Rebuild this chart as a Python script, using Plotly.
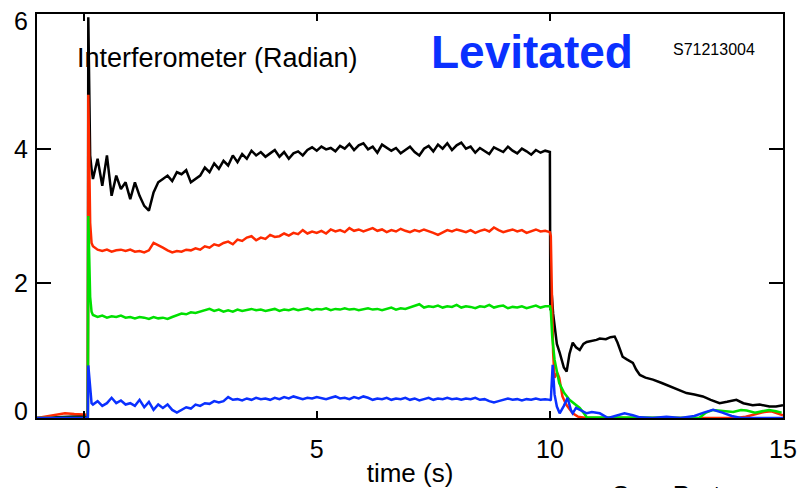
import plotly.graph_objects as go

# ---------------- data ----------------
main_t = [round(0.2 + 0.1 * i, 1) for i in range(99)]  # 0.2 ... 10.0 s sampling grid

black_pre_t = [-1.0, -0.5, 0.0, 0.09, 0.1, 0.14, 0.17]
black_pre_v = [0.0, 0.01, 0.02, 0.03, 5.95, 3.9, 3.7]
black_main = [3.55, 3.85, 3.45, 3.9, 3.3, 3.6, 3.4, 3.5, 3.25, 3.5,
              3.3, 3.15, 3.08, 3.35, 3.5, 3.55, 3.6, 3.52, 3.65, 3.62,
              3.68, 3.5, 3.55, 3.6, 3.72, 3.65, 3.78, 3.7, 3.82, 3.75,
              3.9, 3.8, 3.92, 3.85, 3.97, 3.9, 3.95, 3.88, 3.93, 3.98,
              3.88, 3.95, 3.85, 3.93, 3.96, 3.9, 3.98, 4.02, 3.97, 4.03,
              3.99, 4.01, 3.96, 4.04, 4.0, 4.07, 3.98, 4.05, 4.08, 3.99,
              4.03, 3.94, 4.06, 4.02, 3.97, 4.01, 3.93, 3.98, 4.03, 3.95,
              3.9, 4.0, 4.04, 3.96, 4.06, 4.0, 4.08, 3.98, 4.05, 4.09,
              4.0, 4.03, 3.94, 4.01, 3.97, 3.92, 4.02, 3.99, 3.95, 4.03,
              3.97, 3.93, 4.0, 3.96, 3.91, 3.98, 3.94, 3.97, 3.95]
black_tail_t = [10.01, 10.04, 10.07, 10.15, 10.21, 10.3, 10.36, 10.42, 10.49, 10.56,
                10.64, 10.72, 10.79, 10.9, 11.0, 11.07, 11.2, 11.3, 11.39, 11.45,
                11.56, 11.65, 11.78, 11.85, 11.93, 12.05, 12.21, 12.4, 12.57, 12.75,
                12.93, 13.1, 13.28, 13.45, 13.64, 13.8, 14.0, 14.15, 14.35, 14.5,
                14.71, 14.85, 15.0]
black_tail_v = [1.6, 1.84, 1.55, 1.1, 0.97, 0.75, 0.69, 0.95, 1.12, 1.05,
                1.01, 1.1, 1.13, 1.14, 1.16, 1.18, 1.17, 1.2, 1.21, 1.12,
                0.91, 0.87, 0.82, 0.72, 0.64, 0.6, 0.57, 0.52, 0.47, 0.42,
                0.37, 0.35, 0.32, 0.27, 0.22, 0.24, 0.27, 0.22, 0.19, 0.2,
                0.17, 0.17, 0.19]

red_pre_t = [-1.0, -0.8, -0.6, -0.4, -0.2, 0.0, 0.09, 0.1, 0.14, 0.17]
red_pre_v = [0.0, 0.02, 0.05, 0.07, 0.06, 0.06, 0.05, 4.8, 2.9, 2.6]
red_main = [2.55, 2.5, 2.48, 2.5, 2.47, 2.49, 2.5, 2.48, 2.5, 2.47,
            2.48, 2.46, 2.49, 2.6, 2.57, 2.53, 2.49, 2.46, 2.48, 2.47,
            2.5, 2.49, 2.52, 2.5, 2.55, 2.53, 2.58, 2.56, 2.6, 2.62,
            2.58, 2.65, 2.63, 2.68, 2.7, 2.64, 2.68, 2.66, 2.72, 2.69,
            2.7, 2.74, 2.71, 2.75, 2.73, 2.79, 2.74, 2.77, 2.75, 2.78,
            2.74, 2.8, 2.77, 2.79, 2.76, 2.82, 2.78, 2.8, 2.77, 2.79,
            2.82, 2.78, 2.8, 2.76, 2.79, 2.77, 2.81, 2.78, 2.76, 2.79,
            2.77, 2.8, 2.78, 2.75, 2.72, 2.76, 2.79, 2.77, 2.8, 2.78,
            2.76, 2.79, 2.75, 2.78, 2.8, 2.77, 2.83, 2.79, 2.76, 2.78,
            2.8, 2.77, 2.79, 2.75, 2.78, 2.8, 2.77, 2.78, 2.76]
red_tail_t = [10.02, 10.04, 10.07, 10.1, 10.16, 10.2, 10.27, 10.35, 10.49, 10.6,
              10.79, 12.0, 14.0, 14.2, 14.4, 14.6, 14.75, 14.9, 15.0]
red_tail_v = [2.7, 1.96, 0.97, 0.6, 0.67, 0.6, 0.32, 0.2, 0.07, 0.02,
              0.0, 0.0, 0.0, 0.02, 0.06, 0.09, 0.1, 0.06, 0.04]

green_pre_t = [-1.0, 0.0, 0.09, 0.1, 0.14, 0.17]
green_pre_v = [0.0, 0.0, 0.0, 3.0, 1.8, 1.58]
green_main = [1.53, 1.5, 1.52, 1.49, 1.51, 1.5, 1.52, 1.49, 1.5, 1.48,
              1.5, 1.49, 1.47, 1.5, 1.48, 1.49, 1.47, 1.5, 1.52, 1.55,
              1.54, 1.57, 1.56, 1.58, 1.6, 1.62, 1.59, 1.61, 1.58, 1.6,
              1.58, 1.61, 1.59, 1.6, 1.62, 1.6, 1.61, 1.59, 1.6, 1.62,
              1.59, 1.61, 1.6, 1.62, 1.6, 1.61, 1.63, 1.6, 1.62, 1.61,
              1.63, 1.6, 1.62, 1.61, 1.63, 1.61, 1.62, 1.6, 1.62, 1.63,
              1.61, 1.62, 1.6, 1.62, 1.64, 1.61, 1.63, 1.62, 1.64, 1.66,
              1.69, 1.64, 1.66, 1.65, 1.67, 1.64, 1.66, 1.65, 1.68, 1.64,
              1.66, 1.65, 1.63, 1.66, 1.65, 1.68, 1.64, 1.66, 1.67, 1.63,
              1.65, 1.64, 1.66, 1.63, 1.65, 1.67, 1.64, 1.66, 1.66]
green_tail_t = [10.02, 10.05, 10.1, 10.2, 10.3, 10.42, 10.55, 10.64, 10.72, 10.79,
                13.2, 13.35, 13.5, 13.7, 13.93, 14.1, 14.22, 14.4, 14.55, 14.7,
                14.85, 14.97]
green_tail_v = [1.6, 1.21, 0.87, 0.52, 0.38, 0.27, 0.2, 0.15, 0.08, 0.01,
                0.0, 0.08, 0.12, 0.11, 0.09, 0.12, 0.11, 0.08, 0.1, 0.12,
                0.1, 0.08]

blue_pre_t = [-1.0, 0.0, 0.09, 0.1, 0.14, 0.17]
blue_pre_v = [0.0, 0.0, 0.0, 0.78, 0.4, 0.22]
blue_main = [0.2, 0.25, 0.18, 0.22, 0.3, 0.22, 0.26, 0.2, 0.22, 0.18,
             0.27, 0.16, 0.24, 0.12, 0.2, 0.15, 0.2, 0.12, 0.08, 0.12,
             0.16, 0.14, 0.2, 0.18, 0.22, 0.21, 0.25, 0.23, 0.25, 0.31,
             0.27, 0.28, 0.26, 0.29, 0.27, 0.3, 0.28, 0.29, 0.27, 0.3,
             0.28, 0.31, 0.29, 0.32, 0.3, 0.28, 0.3, 0.29, 0.31, 0.3,
             0.28, 0.3, 0.32, 0.29, 0.3, 0.28, 0.31, 0.29, 0.32, 0.3,
             0.27, 0.29, 0.28, 0.3, 0.27, 0.29, 0.28, 0.3, 0.27, 0.29,
             0.26, 0.28, 0.3, 0.27, 0.29, 0.28, 0.3, 0.28, 0.29, 0.27,
             0.29, 0.28, 0.3, 0.27, 0.28, 0.25, 0.23, 0.25, 0.27, 0.29,
             0.27, 0.28, 0.26, 0.28, 0.27, 0.29, 0.27, 0.28, 0.27]
blue_tail_t = [10.02, 10.06, 10.1, 10.15, 10.21, 10.3, 10.38, 10.45, 10.49, 10.56,
               10.64, 10.79, 10.9, 11.07, 11.25, 11.5, 11.6, 11.78, 11.93, 12.2,
               12.5, 12.8, 13.1, 13.3, 13.5, 13.7, 13.9, 14.1, 15.0]
blue_tail_v = [0.26, 0.79, 0.35, 0.17, 0.07, 0.18, 0.3, 0.12, 0.07, 0.15,
               0.12, 0.07, 0.09, 0.07, 0.0, 0.05, 0.07, 0.04, 0.01, 0.0,
               0.02, 0.0, 0.03, 0.08, 0.12, 0.08, 0.03, 0.0, 0.0]

x_ticks = [0, 5, 10, 15]
y_ticks = [0, 2, 4, 6]

series = [
    ("black", black_pre_t, black_pre_v, black_main, black_tail_t, black_tail_v, "#000000"),
    ("red", red_pre_t, red_pre_v, red_main, red_tail_t, red_tail_v, "#ff2a00"),
    ("green", green_pre_t, green_pre_v, green_main, green_tail_t, green_tail_v, "#00e000"),
    ("blue", blue_pre_t, blue_pre_v, blue_main, blue_tail_t, blue_tail_v, "#0a30ff"),
]

FONT = "Liberation Sans, Arial, Helvetica, sans-serif"

fig = go.Figure()
for name, pt, pv, mv, tt, tv, col in series:
    fig.add_trace(go.Scatter(
        x=pt + main_t + tt, y=pv + mv + tv, mode="lines", name=name,
        line=dict(color=col, width=2.5), showlegend=False, hoverinfo="skip"))

fig.update_layout(
    width=797, height=488,
    margin=dict(l=37, r=14, t=14, b=70),
    paper_bgcolor="white", plot_bgcolor="white",
    font=dict(family=FONT, color="black"),
    xaxis=dict(range=[-1, 15], tickvals=x_ticks, ticktext=[str(v) for v in x_ticks],
               ticks="inside", ticklen=7, tickwidth=2, tickcolor="black",
               showline=True, linewidth=2, linecolor="black", mirror="ticks",
               showgrid=False, zeroline=False, tickfont=dict(size=25),
               ticklabelstandoff=8, automargin=False,
               title=dict(text="time (s)", font=dict(size=26), standoff=11)),
    yaxis=dict(range=[0, 6], tickvals=y_ticks, showticklabels=False,
               ticks="inside", ticklen=14, tickwidth=2, tickcolor="black",
               showline=True, linewidth=2, linecolor="black", mirror="ticks",
               showgrid=False, zeroline=False, automargin=False),
)

# y tick labels (end labels kept inside the frame height, as in the reference)
for v in y_ticks:
    shift = 0
    if v == y_ticks[0]:
        shift = 7
    elif v == y_ticks[-1]:
        shift = -7
    fig.add_annotation(text=str(v), xref="paper", yref="y", x=0, y=v,
                       xanchor="right", yanchor="middle", xshift=-7, yshift=shift,
                       showarrow=False, font=dict(size=25, family=FONT, color="black"))

fig.add_annotation(text="Interferometer (Radian)", xref="paper", yref="paper",
                   x=0.051, y=0.891, xanchor="left", yanchor="middle", showarrow=False,
                   font=dict(size=27, family=FONT, color="black"))
fig.add_annotation(text="<b>Levitated</b>", xref="paper", yref="paper",
                   x=0.6635, y=0.906, xanchor="center", yanchor="middle", showarrow=False,
                   font=dict(size=46, family=FONT, color="#0a30ff"))
fig.add_annotation(text="S71213004", xref="paper", yref="paper",
                   x=0.85, y=0.913, xanchor="left", yanchor="middle", showarrow=False,
                   font=dict(size=16, family=FONT, color="black"))
# partially visible caption at the bottom edge (cut off in the reference too)
fig.add_annotation(text="Sam Porter", xref="paper", yref="paper",
                   x=(610 - 37) / 746, y=(418 - 478) / 404, xanchor="left", yanchor="top",
                   showarrow=False, font=dict(size=26, family=FONT, color="black"))

fig.write_html("out.html")
